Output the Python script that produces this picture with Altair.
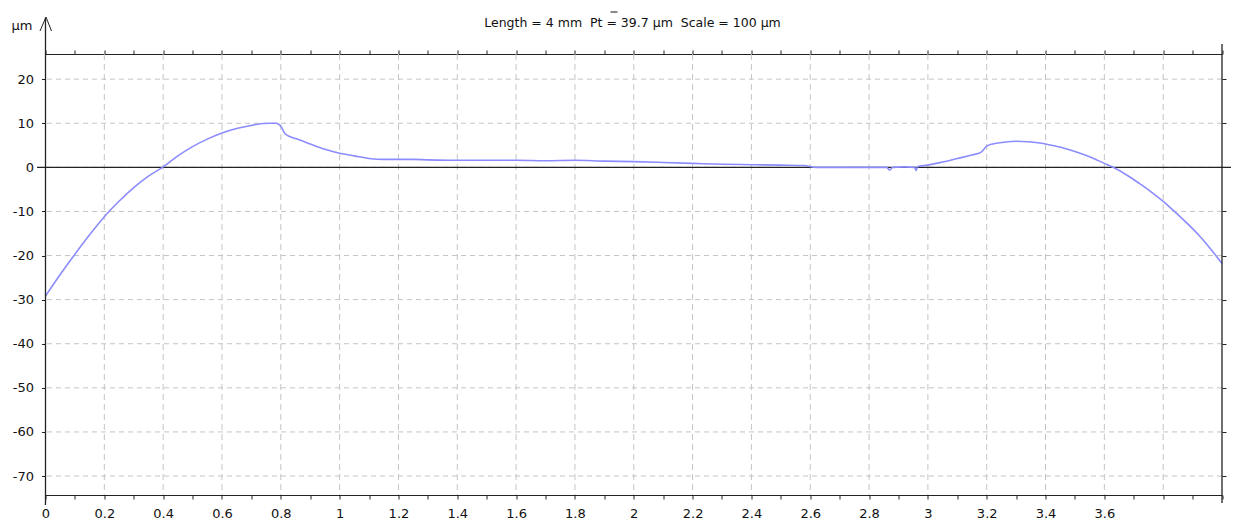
import altair as alt
import pandas as pd

# ---- data ----
prof_x = [0.00, 0.05, 0.10, 0.15, 0.20, 0.25, 0.30, 0.35, 0.40, 0.45, 0.50, 0.55, 0.60, 0.65,
          0.70, 0.73, 0.76, 0.785, 0.80, 0.815, 0.83, 0.86, 0.90, 0.95, 1.00, 1.05, 1.10, 1.15,
          1.20, 1.25, 1.30, 1.40, 1.50, 1.60, 1.70, 1.80, 1.90, 2.00, 2.10, 2.20, 2.30, 2.40,
          2.50, 2.58, 2.62, 2.70, 2.80, 2.86, 2.87, 2.88, 2.92, 2.955, 2.96, 2.965, 3.00, 3.05,
          3.10, 3.15, 3.18, 3.20, 3.22, 3.26, 3.30, 3.34, 3.38, 3.42, 3.46, 3.50, 3.55, 3.60,
          3.63, 3.68, 3.72, 3.76, 3.80, 3.84, 3.88, 3.92, 3.96, 4.00]
prof_y = [-29.2, -24.3, -19.7, -15.3, -11.2, -7.7, -4.6, -2.0, 0.1, 2.6, 4.7, 6.4, 7.8, 8.8,
          9.5, 9.9, 10.0, 10.0, 9.3, 7.6, 7.0, 6.3, 5.3, 4.1, 3.2, 2.6, 2.0, 1.8,
          1.8, 1.8, 1.7, 1.6, 1.6, 1.6, 1.5, 1.6, 1.4, 1.3, 1.1, 0.9, 0.7, 0.6,
          0.5, 0.4, 0.0, 0.0, 0.0, 0.0, -0.6, 0.0, 0.1, 0.0, -0.7, 0.2, 0.5, 1.2,
          2.0, 2.8, 3.4, 4.8, 5.3, 5.7, 5.9, 5.8, 5.5, 5.0, 4.4, 3.6, 2.4, 0.9,
          0.0, -1.9, -3.7, -5.6, -7.7, -10.1, -12.6, -15.3, -18.4, -21.8]

x_ticks = [0.0, 0.1, 0.2, 0.3, 0.4, 0.5, 0.6, 0.7, 0.8, 0.9, 1.0, 1.1, 1.2, 1.3, 1.4, 1.5,
           1.6, 1.7, 1.8, 1.9, 2.0, 2.1, 2.2, 2.3, 2.4, 2.5, 2.6, 2.7, 2.8, 2.9, 3.0, 3.1,
           3.2, 3.3, 3.4, 3.5, 3.6, 3.7, 3.8, 3.9, 4.0]
grid_x = [0.2, 0.4, 0.6, 0.8, 1.0, 1.2, 1.4, 1.6, 1.8, 2.0, 2.2, 2.4, 2.6, 2.8, 3.0, 3.2,
          3.4, 3.6, 3.8]
y_ticks = [20, 10, 0, -10, -20, -30, -40, -50, -60, -70]
x_domain = [0, 4]
y_domain = [-74.3, 25.7]

NB = "\u00a0"
title_text = "Length = 4 mm" + NB + NB + "Pt = 39.7 µm" + NB + NB + "Scale = 100 µm"
y_unit = "µm"

W = 1176.5
H = 441
FONT = "DejaVu Sans"
AX = "#222222"
TXT = "#111111"

prof = pd.DataFrame({"x": prof_x, "y": prof_y})
one = pd.DataFrame({"a": [0]})

xs = alt.Scale(domain=x_domain, nice=False, zero=False)
ys = alt.Scale(domain=y_domain, nice=False, zero=False)

vgrid = alt.Chart(pd.DataFrame({"gx": grid_x})).mark_rule(
    color="#c4c4c4", strokeWidth=1, strokeDash=[6, 4]
).encode(x=alt.X("gx:Q", scale=xs, axis=None))

hgrid = alt.Chart(pd.DataFrame({"gy": y_ticks})).mark_rule(
    color="#c4c4c4", strokeWidth=1, strokeDash=[5, 4]
).encode(y=alt.Y("gy:Q", scale=ys, axis=None))

zero = alt.Chart(pd.DataFrame({"z": [0]})).mark_rule(color=AX, strokeWidth=1.3).encode(
    y=alt.Y("z:Q", scale=ys, axis=None), x=alt.value(-8.5), x2=alt.value(W + 9)
)

line = alt.Chart(prof).mark_line(color="#8c8cff", strokeWidth=1.6, interpolate="monotone").encode(
    x=alt.X("x:Q", scale=xs, title=None,
            axis=alt.Axis(orient="bottom", values=x_ticks, grid=False, domain=True,
                          domainColor=AX, tickColor=AX, tickSize=4,
                          labelExpr="(round(datum.value*10) % 2 == 0 && datum.value < 3.7) ? toString(datum.value) : ''",
                          labelFlush=False, labelOverlap=False, labelFont=FONT,
                          labelFontSize=13, labelColor=TXT, labelPadding=8)),
    y=alt.Y("y:Q", scale=ys, title=None,
            axis=alt.Axis(orient="left", values=y_ticks, grid=False, domain=False,
                          tickColor=AX, tickSize=4, labelExpr="toString(datum.value)",
                          labelFont=FONT, labelFontSize=13, labelColor=TXT,
                          labelPadding=8, labelOverlap=False)),
)

ghost = alt.Chart(prof).mark_line(strokeOpacity=0).encode(
    x=alt.X("x:Q", scale=xs, title=None,
            axis=alt.Axis(orient="top", values=x_ticks, grid=False, labels=False, domain=True,
                          domainColor=AX, tickColor=AX, tickSize=4)),
    y=alt.Y("y:Q", scale=ys, title=None,
            axis=alt.Axis(orient="right", values=y_ticks, grid=False, labels=False, domain=False,
                          tickColor=AX, tickSize=4)),
)

left_line = alt.Chart(one).mark_rule(color=AX, strokeWidth=1.3).encode(
    x=alt.value(0), y=alt.value(-36), y2=alt.value(H + 10))
right_line = alt.Chart(one).mark_rule(color=AX, strokeWidth=1.3).encode(
    x=alt.value(W), y=alt.value(-10), y2=alt.value(H + 8))
arrow_up_l = alt.Chart(one).mark_rule(color=AX, strokeWidth=1).encode(
    x=alt.value(-5.5), y=alt.value(-23), x2=alt.value(0.5), y2=alt.value(-37))
arrow_up_r = alt.Chart(one).mark_rule(color=AX, strokeWidth=1).encode(
    x=alt.value(6), y=alt.value(-23), x2=alt.value(0.5), y2=alt.value(-37))

title = alt.Chart(pd.DataFrame({"t": [title_text]})).mark_text(
    font=FONT, fontSize=12.5, color=TXT, align="center", baseline="alphabetic"
).encode(text="t:N", x=alt.value(587), y=alt.value(-27.3))
overbar = alt.Chart(one).mark_rule(color=TXT, strokeWidth=1).encode(
    x=alt.value(565), x2=alt.value(572), y=alt.value(-42))
unit = alt.Chart(pd.DataFrame({"t": [y_unit]})).mark_text(
    font=FONT, fontSize=13, color=TXT, align="center", baseline="alphabetic"
).encode(text="t:N", x=alt.value(-23.5), y=alt.value(-24))

chart = alt.layer(
    vgrid, hgrid, zero, line, ghost, left_line, right_line,
    arrow_up_l, arrow_up_r, title, overbar, unit
).resolve_axis(x="independent", y="independent").properties(
    width=W, height=H,
    autosize=alt.AutoSizeParams(type="none"),
    padding={"left": 37.5, "top": 46, "right": 21, "bottom": 25},
    background="white",
).configure_view(stroke=None)

chart.save("out.html", embed_options={"renderer": "svg", "actions": False})
